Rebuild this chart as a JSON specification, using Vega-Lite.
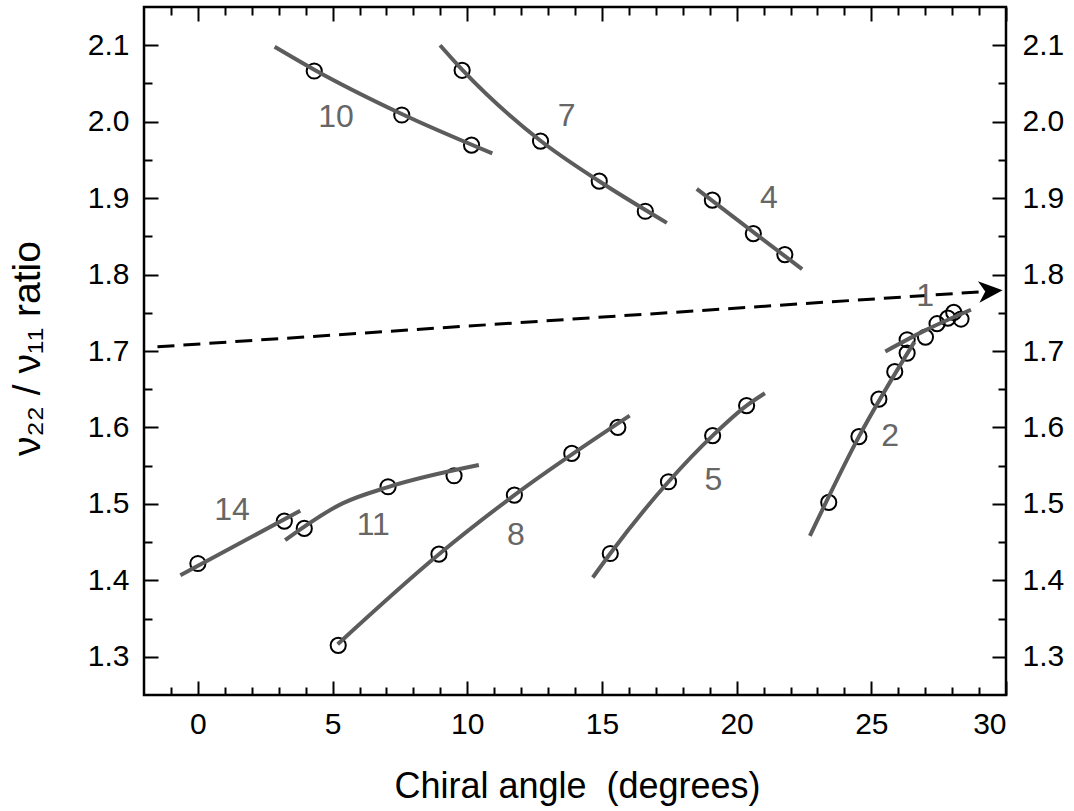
{
  "$schema": "https://vega.github.io/schema/vega-lite/v6.json",
  "width": 862,
  "height": 688,
  "autosize": {"type": "none"},
  "padding": {"left": 144, "top": 7, "right": 68, "bottom": 116},
  "background": "white",
  "config": {
    "view": {"stroke": "black", "strokeWidth": 2.5},
    "axis": {
      "grid": false,
      "domain": false,
      "labelFont": "Liberation Sans",
      "titleFont": "Liberation Sans",
      "labelColor": "black",
      "titleColor": "black",
      "tickColor": "black",
      "tickWidth": 2,
      "labelFontSize": 30,
      "titleFontSize": 36,
      "titleFontWeight": "normal"
    }
  },
  "datasets": {
    "pts": [
      {"f": "10", "x": 4.32, "y": 2.0663}, {"f": "10", "x": 7.57, "y": 2.0087}, {"f": "10", "x": 10.16, "y": 1.9693},
      {"f": "7", "x": 9.81, "y": 2.0672}, {"f": "7", "x": 12.72, "y": 1.9746}, {"f": "7", "x": 14.9, "y": 1.9222}, {"f": "7", "x": 16.61, "y": 1.8828},
      {"f": "4", "x": 19.1, "y": 1.8973}, {"f": "4", "x": 20.62, "y": 1.8536}, {"f": "4", "x": 21.79, "y": 1.8261},
      {"f": "14", "x": 0, "y": 1.422}, {"f": "14", "x": 3.21, "y": 1.4775},
      {"f": "11", "x": 3.95, "y": 1.4679}, {"f": "11", "x": 7.06, "y": 1.5224}, {"f": "11", "x": 9.51, "y": 1.5368},
      {"f": "8", "x": 5.21, "y": 1.315}, {"f": "8", "x": 8.95, "y": 1.4342}, {"f": "8", "x": 11.75, "y": 1.5115}, {"f": "8", "x": 13.88, "y": 1.566}, {"f": "8", "x": 15.59, "y": 1.6},
      {"f": "5", "x": 15.31, "y": 1.4351}, {"f": "5", "x": 17.47, "y": 1.529}, {"f": "5", "x": 19.11, "y": 1.5893}, {"f": "5", "x": 20.37, "y": 1.6286},
      {"f": "2", "x": 23.42, "y": 1.502}, {"f": "2", "x": 24.54, "y": 1.588}, {"f": "2", "x": 25.28, "y": 1.637}, {"f": "2", "x": 25.87, "y": 1.673}, {"f": "2", "x": 26.33, "y": 1.6973},
      {"f": "1", "x": 26.33, "y": 1.7147}, {"f": "1", "x": 27.01, "y": 1.7182}, {"f": "1", "x": 27.44, "y": 1.7357}, {"f": "1", "x": 27.84, "y": 1.743}, {"f": "1", "x": 28.06, "y": 1.7505}, {"f": "1", "x": 28.33, "y": 1.7418}
    ],
    "fits": [
      {"f": "10", "x": 2.85, "y": 2.098}, {"f": "10", "x": 4.32, "y": 2.068}, {"f": "10", "x": 7.57, "y": 2.01}, {"f": "10", "x": 10.93, "y": 1.9585},
      {"f": "7", "x": 8.99, "y": 2.1}, {"f": "7", "x": 9.81, "y": 2.068}, {"f": "7", "x": 12.72, "y": 1.975}, {"f": "7", "x": 14.9, "y": 1.922}, {"f": "7", "x": 17.41, "y": 1.8676},
      {"f": "4", "x": 18.52, "y": 1.912}, {"f": "4", "x": 22.43, "y": 1.807},
      {"f": "14", "x": -0.65, "y": 1.4067}, {"f": "14", "x": 3.8, "y": 1.491},
      {"f": "11", "x": 3.24, "y": 1.4526}, {"f": "11", "x": 5.37, "y": 1.5007}, {"f": "11", "x": 7.06, "y": 1.522}, {"f": "11", "x": 10.43, "y": 1.5508},
      {"f": "8", "x": 5.19, "y": 1.3165}, {"f": "8", "x": 8.95, "y": 1.4342}, {"f": "8", "x": 11.75, "y": 1.5115}, {"f": "8", "x": 16.03, "y": 1.6155},
      {"f": "5", "x": 14.66, "y": 1.4037}, {"f": "5", "x": 15.31, "y": 1.4351}, {"f": "5", "x": 17.47, "y": 1.529}, {"f": "5", "x": 19.11, "y": 1.5893}, {"f": "5", "x": 20.37, "y": 1.6286}, {"f": "5", "x": 21.05, "y": 1.6448},
      {"f": "2", "x": 22.72, "y": 1.4582}, {"f": "2", "x": 24.54, "y": 1.588}, {"f": "2", "x": 26.6, "y": 1.712},
      {"f": "1", "x": 25.52, "y": 1.6994}, {"f": "1", "x": 27.0, "y": 1.727}, {"f": "1", "x": 28.7, "y": 1.754}
    ],
    "dash": [
      {"x": -1.5, "y": 1.7055}, {"x": 29.1, "y": 1.7775}
    ],
    "arrow": [
      {"x": 29.43, "y": 1.7783}
    ],
    "labels": [
      {"t": "10", "x": 5.13, "y": 2.006},
      {"t": "7", "x": 13.69, "y": 2.008},
      {"t": "4", "x": 21.2, "y": 1.9004},
      {"t": "1", "x": 27.0, "y": 1.7714},
      {"t": "2", "x": 25.7, "y": 1.589},
      {"t": "5", "x": 19.14, "y": 1.531},
      {"t": "8", "x": 11.81, "y": 1.459},
      {"t": "11", "x": 6.51, "y": 1.472},
      {"t": "14", "x": 1.27, "y": 1.492}
    ]
  },
  "layer": [
    {
      "data": {"name": "pts"},
      "mark": {"type": "point", "shape": "circle", "filled": false, "stroke": "black", "strokeWidth": 2, "size": 230, "opacity": 1},
      "encoding": {
        "x": {"field": "x", "type": "quantitative", "scale": {"domain": [-2, 30], "nice": false, "zero": false},
          "axis": {"orient": "bottom", "values": [0, 5, 10, 15, 20, 25, 30], "format": "d", "ticks": false, "labelPadding": 14,
            "title": "Chiral angle\u00a0 (degrees)", "titleX": 433, "titleY": 102, "titleBaseline": "alphabetic", "titleAlign": "center"}},
        "y": {"field": "y", "type": "quantitative", "scale": {"domain": [1.25, 2.15], "nice": false, "zero": false},
          "axis": {"orient": "left", "values": [1.3, 1.4, 1.5, 1.6, 1.7, 1.8, 1.9, 2.0, 2.1], "format": ".1f", "ticks": false, "labelPadding": 15,
            "title": "ν₂₂ / ν₁₁ ratio", "titleFontSize": 39, "titleX": -105, "titleY": 341, "titleAngle": -90, "titleBaseline": "alphabetic", "titleAlign": "center"}}
      }
    },
    {
      "data": {"name": "fits"},
      "mark": {"type": "line", "color": "#5c5c5c", "strokeWidth": 4, "interpolate": "monotone", "strokeCap": "butt"},
      "encoding": {
        "x": {"field": "x", "type": "quantitative", "scale": {"domain": [-2, 30], "nice": false, "zero": false},
          "axis": {"orient": "bottom", "values": [0, 5, 10, 15, 20, 25, 30], "labels": false, "tickSize": -14, "title": null}},
        "y": {"field": "y", "type": "quantitative", "scale": {"domain": [1.25, 2.15], "nice": false, "zero": false},
          "axis": {"orient": "left", "values": [1.3, 1.4, 1.5, 1.6, 1.7, 1.8, 1.9, 2.0, 2.1], "labels": false, "tickSize": -14, "title": null}},
        "detail": {"field": "f"}
      }
    },
    {
      "data": {"name": "dash"},
      "mark": {"type": "line", "color": "black", "strokeWidth": 3, "strokeDash": [17, 9]},
      "encoding": {
        "x": {"field": "x", "type": "quantitative", "scale": {"domain": [-2, 30], "nice": false, "zero": false},
          "axis": {"orient": "bottom", "values": [-1, 1, 2, 3, 4, 6, 7, 8, 9, 11, 12, 13, 14, 16, 17, 18, 19, 21, 22, 23, 24, 26, 27, 28, 29], "labels": false, "tickSize": -8, "title": null}},
        "y": {"field": "y", "type": "quantitative", "scale": {"domain": [1.25, 2.15], "nice": false, "zero": false},
          "axis": {"orient": "left", "values": [1.35, 1.45, 1.55, 1.65, 1.75, 1.85, 1.95, 2.05], "labels": false, "tickSize": -8, "title": null}}
      }
    },
    {
      "data": {"name": "arrow"},
      "mark": {"type": "point", "shape": "M1,0L-1,-0.9L-0.45,0L-1,0.9Z", "filled": true, "color": "black", "size": 576, "angle": -4, "opacity": 1},
      "encoding": {
        "x": {"field": "x", "type": "quantitative", "scale": {"domain": [-2, 30], "nice": false, "zero": false},
          "axis": {"orient": "top", "values": [0, 5, 10, 15, 20, 25, 30], "labels": false, "tickSize": -14, "title": null}},
        "y": {"field": "y", "type": "quantitative", "scale": {"domain": [1.25, 2.15], "nice": false, "zero": false},
          "axis": {"orient": "right", "values": [1.3, 1.4, 1.5, 1.6, 1.7, 1.8, 1.9, 2.0, 2.1], "format": ".1f", "ticks": false, "labelPadding": 16, "title": null}}
      }
    },
    {
      "data": {"name": "labels"},
      "mark": {"type": "text", "font": "Liberation Sans", "fontSize": 32, "color": "#666666", "align": "center", "baseline": "middle"},
      "encoding": {
        "x": {"field": "x", "type": "quantitative", "scale": {"domain": [-2, 30], "nice": false, "zero": false},
          "axis": {"orient": "top", "values": [-1, 1, 2, 3, 4, 6, 7, 8, 9, 11, 12, 13, 14, 16, 17, 18, 19, 21, 22, 23, 24, 26, 27, 28, 29], "labels": false, "tickSize": -8, "title": null}},
        "y": {"field": "y", "type": "quantitative", "scale": {"domain": [1.25, 2.15], "nice": false, "zero": false},
          "axis": {"orient": "right", "values": [1.3, 1.4, 1.5, 1.6, 1.7, 1.8, 1.9, 2.0, 2.1], "labels": false, "tickSize": -14, "title": null}},
        "text": {"field": "t"}
      }
    },
    {
      "data": {"name": "arrow"},
      "mark": {"type": "point", "opacity": 0},
      "encoding": {
        "x": {"field": "x", "type": "quantitative", "scale": {"domain": [-2, 30], "nice": false, "zero": false}, "axis": null},
        "y": {"field": "y", "type": "quantitative", "scale": {"domain": [1.25, 2.15], "nice": false, "zero": false},
          "axis": {"orient": "right", "values": [1.35, 1.45, 1.55, 1.65, 1.75, 1.85, 1.95, 2.05], "labels": false, "tickSize": -8, "title": null}}
      }
    }
  ],
  "resolve": {"axis": {"x": "independent", "y": "independent"}}
}
